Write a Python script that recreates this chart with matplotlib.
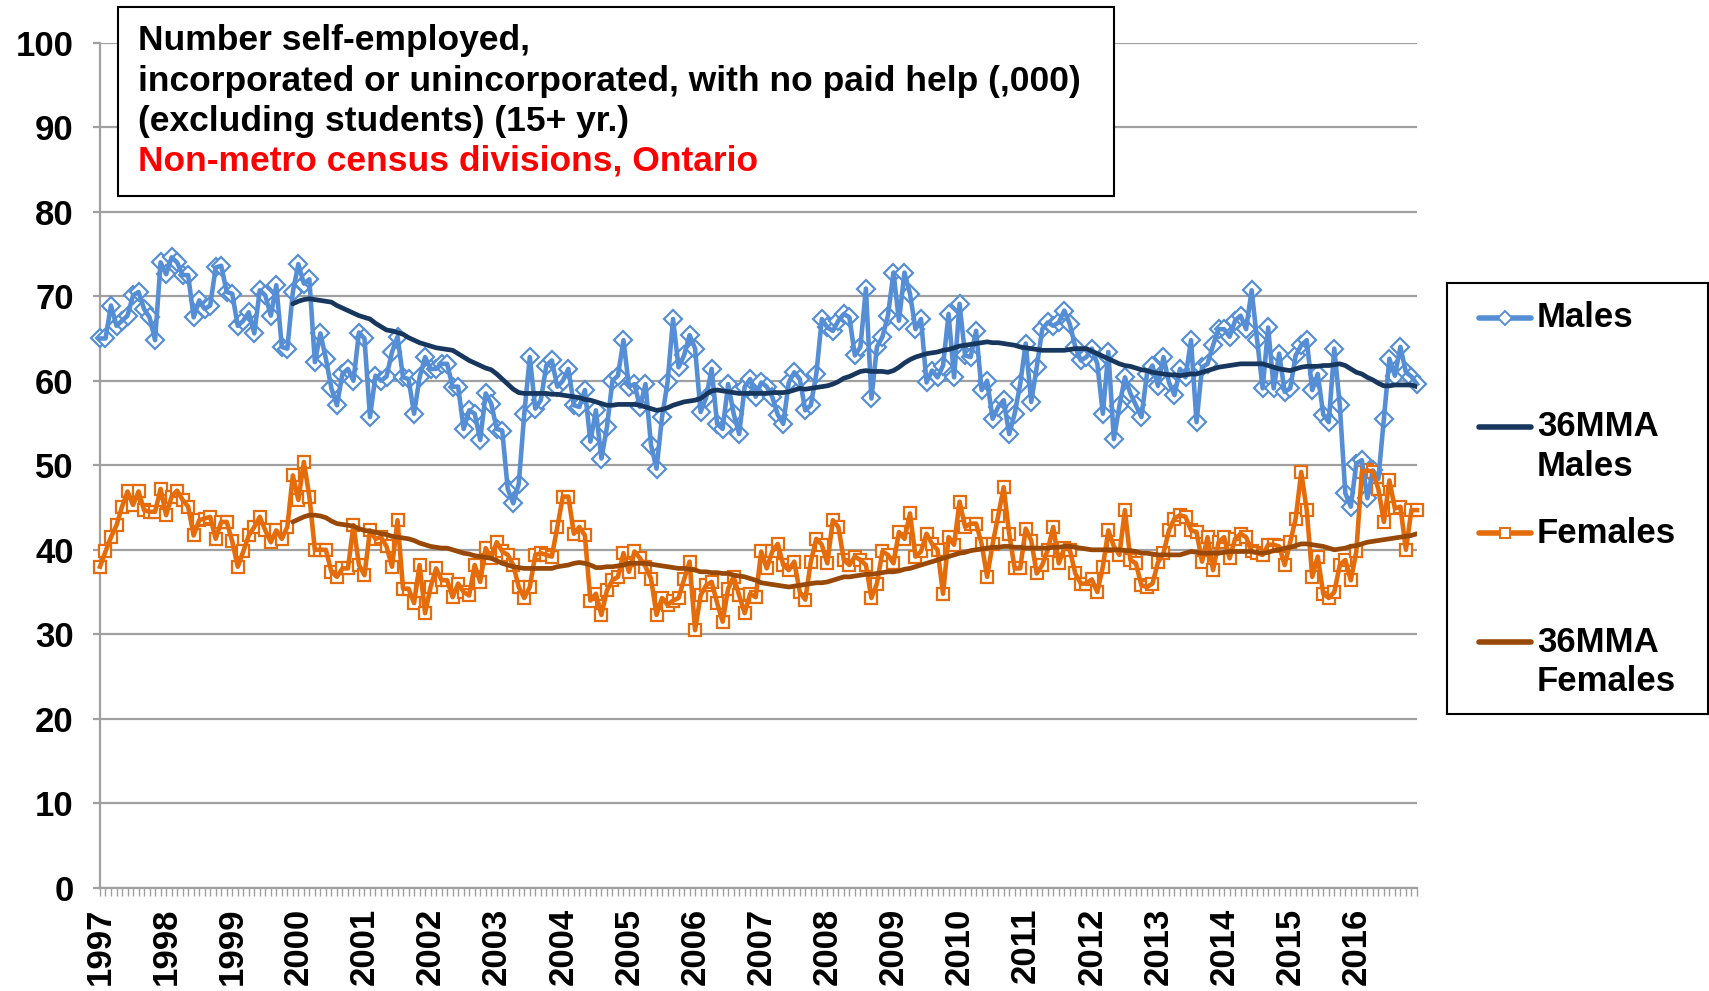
import numpy as np
import matplotlib
matplotlib.use('Agg')
import matplotlib.pyplot as plt
from matplotlib.patches import Rectangle

plt.rcParams['font.family'] = ['Liberation Sans', 'DejaVu Sans']
plt.rcParams['font.weight'] = 'bold'

# monthly data, Jan 1997 - Dec 2016 (thousands)
years = [str(y) for y in range(1997, 2017)]

males = [
    65.0, 65.0, 68.9, 66.5, 67.1, 67.7, 70.1, 70.5, 68.5, 67.5, 64.8, 74.0,  # 1997
    72.6, 74.6, 74.0, 72.5, 72.5, 67.5, 69.5, 68.5, 68.9, 73.4, 73.6, 70.5,  # 1998
    70.3, 66.5, 67.1, 68.1, 65.6, 70.7, 70.1, 67.7, 71.3, 64.0, 63.8, 70.5,  # 1999
    73.8, 71.5, 72.0, 62.2, 65.6, 62.6, 59.1, 57.1, 60.8, 61.4, 60.0, 65.7,  # 2000
    65.0, 55.7, 60.6, 60.0, 60.5, 63.4, 65.2, 60.4, 60.2, 56.1, 60.4, 62.8,  # 2001
    61.4, 61.4, 62.0, 62.0, 59.3, 59.3, 54.3, 56.5, 56.1, 53.0, 58.5, 57.3,  # 2002
    54.3, 54.1, 47.2, 45.5, 47.8, 56.1, 62.8, 56.7, 57.7, 61.8, 62.4, 59.3,  # 2003
    60.0, 61.4, 57.1, 56.9, 58.9, 52.8, 56.5, 50.8, 54.5, 60.0, 60.6, 64.8,  # 2004
    59.3, 59.6, 56.9, 59.6, 52.4, 49.6, 55.7, 59.8, 67.3, 61.6, 63.0, 65.4,  # 2005
    63.8, 56.3, 58.0, 61.4, 54.9, 54.3, 59.6, 56.1, 53.7, 59.3, 60.2, 58.1,  # 2006
    59.8, 59.3, 58.1, 56.0, 54.9, 59.8, 61.0, 60.2, 56.5, 57.1, 60.8, 67.3,  # 2007
    66.3, 65.9, 67.1, 67.9, 67.5, 63.0, 64.0, 70.9, 57.9, 64.0, 65.2, 67.7,  # 2008
    72.8, 67.1, 72.8, 70.3, 66.1, 67.3, 59.8, 61.2, 60.4, 61.8, 67.9, 60.4,  # 2009
    69.1, 63.0, 62.8, 65.9, 58.9, 60.0, 55.5, 56.9, 57.7, 53.7, 56.1, 59.6,  # 2010
    64.4, 57.5, 61.6, 66.1, 66.9, 66.5, 66.9, 68.3, 66.7, 64.0, 62.4, 62.8,  # 2011
    63.8, 62.0, 56.1, 63.4, 53.1, 57.0, 60.4, 58.5, 57.1, 55.7, 60.8, 61.8,  # 2012
    59.4, 62.8, 59.8, 58.3, 61.4, 60.4, 64.8, 55.1, 61.6, 62.0, 64.2, 66.1,  # 2013
    66.1, 65.2, 67.1, 67.7, 66.1, 70.7, 64.8, 59.1, 66.3, 59.1, 63.2, 58.7,  # 2014
    59.1, 63.0, 64.2, 64.8, 58.9, 60.8, 56.0, 55.1, 63.8, 57.1, 46.7, 45.1,  # 2015
    50.2, 50.6, 46.1, 49.4, 48.4, 55.5, 62.6, 60.6, 64.0, 61.0, 60.5, 59.6,  # 2016
]

females = [
    38.0, 39.8, 41.5, 42.9, 45.1, 46.9, 45.3, 46.9, 44.7, 44.5, 44.5, 47.2,  # 1997
    44.1, 46.3, 47.0, 45.9, 45.1, 41.7, 43.5, 43.7, 43.9, 41.3, 43.3, 43.3,  # 1998
    41.0, 38.0, 39.8, 41.7, 42.7, 43.9, 42.3, 40.9, 42.3, 41.3, 42.7, 48.8,  # 1999
    45.9, 50.4, 46.3, 40.0, 40.0, 40.0, 37.4, 36.8, 37.8, 37.8, 42.9, 38.2,  # 2000
    37.0, 42.3, 41.3, 41.5, 40.4, 38.0, 43.5, 35.4, 35.4, 33.7, 38.2, 32.5,  # 2001
    35.6, 37.8, 36.4, 36.4, 34.4, 36.0, 35.0, 34.6, 38.2, 36.2, 40.2, 39.0,  # 2002
    40.9, 39.8, 39.4, 38.2, 35.6, 34.3, 35.6, 39.4, 39.6, 39.4, 39.2, 42.7,  # 2003
    46.3, 46.3, 41.9, 42.7, 41.7, 34.0, 34.8, 32.3, 35.2, 36.4, 36.8, 39.6,  # 2004
    37.4, 39.8, 39.0, 38.0, 36.6, 32.3, 34.3, 33.5, 34.0, 34.3, 36.5, 38.6,  # 2005
    30.5, 34.6, 35.8, 36.2, 33.7, 31.5, 35.4, 36.8, 34.6, 32.5, 34.8, 34.4,  # 2006
    39.8, 37.8, 39.8, 40.7, 38.2, 37.6, 38.6, 35.0, 34.1, 38.6, 41.3, 40.6,  # 2007
    38.4, 43.5, 42.7, 38.8, 38.2, 39.2, 38.8, 38.2, 34.3, 36.0, 39.8, 39.4,  # 2008
    38.4, 42.1, 41.3, 44.3, 39.2, 39.8, 41.9, 40.7, 40.0, 34.8, 41.5, 40.6,  # 2009
    45.7, 42.7, 43.1, 43.1, 40.7, 36.8, 40.7, 44.0, 47.4, 41.9, 37.8, 37.8,  # 2010
    42.5, 41.1, 37.2, 38.2, 40.0, 42.7, 38.4, 40.2, 40.0, 37.2, 36.0, 36.0,  # 2011
    36.5, 35.0, 38.0, 42.3, 40.4, 39.4, 44.7, 38.8, 38.4, 35.8, 35.6, 36.0,  # 2012
    38.5, 39.6, 42.3, 43.7, 44.1, 43.9, 42.3, 42.1, 38.6, 41.5, 37.6, 40.9,  # 2013
    41.5, 39.0, 41.3, 41.9, 41.5, 39.8, 39.6, 39.4, 40.6, 40.6, 40.4, 38.2,  # 2014
    40.9, 43.7, 49.2, 44.7, 36.8, 39.2, 34.8, 34.3, 35.0, 38.2, 38.8, 36.4,  # 2015
    39.8, 49.2, 49.4, 49.2, 47.2, 43.3, 48.2, 44.9, 45.1, 40.0, 44.7, 44.7,  # 2016
]

# 36-month moving averages, starting Dec 1999
mma_start = 35
mma_males = [
    69.1, 69.4, 69.6, 69.7, 69.6, 69.5, 69.4, 69.3, 68.9, 68.6, 68.3, 68.0, 67.7,
    67.5, 67.3, 66.8, 66.4, 66.0, 65.9, 65.7, 65.5, 65.1, 64.8, 64.5, 64.3,
    64.1, 63.9, 63.8, 63.7, 63.6, 63.2, 62.8, 62.4, 62.1, 61.8, 61.5, 61.3,
    60.8, 60.2, 59.6, 59.0, 58.6, 58.5, 58.5, 58.5, 58.5, 58.5, 58.4, 58.4,
    58.3, 58.2, 58.1, 58.0, 57.8, 57.7, 57.5, 57.3, 57.1, 57.1, 57.2, 57.2,
    57.2, 57.2, 57.1, 56.9, 56.7, 56.5, 56.6, 56.8, 57.1, 57.3, 57.5, 57.6,
    57.7, 57.9, 58.4, 58.8, 58.9, 58.8, 58.7, 58.6, 58.5, 58.5, 58.5, 58.5,
    58.5, 58.5, 58.6, 58.6, 58.6, 58.7, 58.9, 59.1, 59.0, 59.1, 59.2, 59.3,
    59.4, 59.6, 59.9, 60.3, 60.5, 60.8, 61.1, 61.2, 61.1, 61.1, 61.1, 61.0,
    61.2, 61.6, 62.1, 62.5, 62.8, 63.0, 63.2, 63.3, 63.4, 63.6, 63.7, 63.9,
    64.1, 64.2, 64.3, 64.4, 64.5, 64.6, 64.5, 64.5, 64.4, 64.3, 64.2, 64.0,
    63.9, 63.8, 63.7, 63.6, 63.6, 63.6, 63.6, 63.6, 63.7, 63.8, 63.8, 63.8,
    63.5, 63.2, 62.9, 62.6, 62.3, 62.0, 61.8, 61.7, 61.5, 61.3, 61.2, 61.0,
    60.9, 60.8, 60.7, 60.7, 60.6, 60.7, 60.8, 60.8, 61.0, 61.2, 61.4, 61.6,
    61.7, 61.8, 61.9, 62.0, 62.0, 62.0, 62.0, 62.0, 61.8, 61.6, 61.4, 61.3,
    61.2, 61.4, 61.6, 61.7, 61.7, 61.7, 61.8, 61.8, 61.9, 62.0, 61.8, 61.4,
    61.0, 60.8, 60.4, 60.1, 59.7, 59.4, 59.4, 59.5, 59.5, 59.5, 59.5, 59.3,
]
mma_females = [
    43.3, 43.6, 43.9, 44.1, 44.1, 44.0, 43.8, 43.4, 43.1, 43.0, 42.9, 42.8, 42.5,
    42.3, 42.2, 42.1, 41.9, 41.8, 41.6, 41.5, 41.4, 41.3, 41.1, 40.8, 40.6,
    40.4, 40.3, 40.2, 40.2, 40.0, 39.8, 39.6, 39.5, 39.3, 39.2, 39.1, 39.0,
    38.7, 38.4, 38.2, 38.0, 37.9, 37.8, 37.8, 37.8, 37.8, 37.8, 37.8, 38.0,
    38.1, 38.2, 38.4, 38.5, 38.4, 38.2, 37.9, 37.9, 38.0, 38.0, 38.1, 38.2,
    38.4, 38.4, 38.4, 38.4, 38.3, 38.2, 38.1, 38.0, 37.9, 37.8, 37.8, 37.7,
    37.6, 37.4, 37.4, 37.3, 37.3, 37.2, 37.2, 37.0, 36.9, 36.8, 36.6, 36.4,
    36.1, 36.0, 35.9, 35.8, 35.7, 35.6, 35.7, 35.8, 35.9, 36.0, 36.1, 36.1,
    36.2, 36.4, 36.6, 36.8, 36.8, 36.9, 37.0, 37.1, 37.1, 37.2, 37.3, 37.4,
    37.4, 37.5, 37.7, 37.8, 38.0, 38.2, 38.4, 38.6, 38.8, 39.0, 39.2, 39.4,
    39.6, 39.7, 39.9, 40.0, 40.1, 40.2, 40.3, 40.3, 40.4, 40.4, 40.3, 40.3,
    40.2, 40.2, 40.2, 40.2, 40.2, 40.3, 40.3, 40.4, 40.4, 40.3, 40.2, 40.1,
    40.0, 40.0, 40.0, 40.0, 40.0, 40.0, 39.9, 39.9, 39.8, 39.6, 39.6, 39.5,
    39.4, 39.4, 39.4, 39.4, 39.4, 39.6, 39.8, 39.7, 39.6, 39.6, 39.6, 39.6,
    39.7, 39.8, 39.8, 39.8, 39.8, 39.8, 39.7, 39.6, 39.7, 39.9, 40.0, 40.2,
    40.3, 40.5, 40.7, 40.7, 40.6, 40.5, 40.4, 40.2, 40.0, 40.1, 40.2, 40.4,
    40.5, 40.7, 40.9, 41.0, 41.1, 41.2, 41.3, 41.4, 41.5, 41.6, 41.7, 41.9,
]

series_labels = ['Males', '36MMA\nMales', 'Females', '36MMA\nFemales']
c_m, c_mma_m = '#558ED5', '#17375E'
c_f, c_mma_f = '#E46C0A', '#984807'

months = np.arange(len(males))
mma_x = np.arange(mma_start, mma_start + len(mma_males))

fig = plt.figure(figsize=(17.09, 9.91), dpi=100)
ax = fig.add_axes([0.0585, 0.104, 0.7706, 0.853])

# data lines (markers under the line, as in the original)
ax.plot(months, males, ls='none', marker='D', ms=9, mfc='white', mec=c_m, mew=1.6, zorder=3, clip_on=False)
ax.plot(months, males, color=c_m, lw=3.3, zorder=4, clip_on=False)
ax.plot(months, females, ls='none', marker='s', ms=9, mfc='white', mec=c_f, mew=1.6, zorder=3, clip_on=False)
ax.plot(months, females, color=c_f, lw=3.3, zorder=4, clip_on=False)
ax.plot(mma_x, mma_males, color=c_mma_m, lw=3.4, zorder=5, solid_capstyle='round')
ax.plot(mma_x, mma_females, color=c_mma_f, lw=3.4, zorder=5, solid_capstyle='round')

ax.set_xlim(0, len(males) - 1)
ax.set_ylim(0, 100)
ax.set_yticks(range(0, 101, 10))
ax.yaxis.grid(True, color='#A0A0A0', lw=1.6)
ax.set_axisbelow(True)

xlabels = [years[i // 12] if i % 12 == 0 else '' for i in months]
ax.set_xticks(months)
ax.set_xticklabels(xlabels, rotation=90, fontsize=25, fontweight='bold')
ax.tick_params(axis='x', length=6, width=1, color='#A0A0A0', pad=8)
ax.tick_params(axis='y', length=5, width=1.6, color='#A0A0A0', pad=14, labelsize=25)
for lab in ax.get_yticklabels():
    lab.set_fontweight('bold')

for s in ['top', 'right']:
    ax.spines[s].set_visible(False)
ax.spines['left'].set_color('#A0A0A0')
ax.spines['bottom'].set_color('#A0A0A0')
ax.spines['left'].set_linewidth(1.6)
ax.spines['bottom'].set_linewidth(1.6)

# title box
fig.add_artist(Rectangle((0.069, 0.802), 0.5828, 0.1912, transform=fig.transFigure,
                         facecolor='white', edgecolor='black', lw=1.5, zorder=10))
title_lines = ['Number self-employed,',
               'incorporated or unincorporated, with no paid help (,000)',
               '(excluding students) (15+ yr.)']
for t, y in zip(title_lines, [0.9596, 0.9173, 0.8779]):
    fig.text(0.0807, y, t, fontsize=25.5, fontweight='bold', va='center', zorder=11)
fig.text(0.0807, 0.8375, 'Non-metro census divisions, Ontario', fontsize=25.5,
         fontweight='bold', color='#FF0000', va='center', zorder=11)

# legend
lax = fig.add_axes([0.8467, 0.2795, 0.1527, 0.4349])
lax.set_xlim(0, 1)
lax.set_ylim(0, 1)
lax.set_xticks([])
lax.set_yticks([])
for s in lax.spines.values():
    s.set_color('black')
    s.set_linewidth(1.5)

leg_y = [0.919, 0.666, 0.42, 0.167]
line_gap = 0.0906
styles = [(c_m, 'D'), (c_mma_m, None), (c_f, 's'), (c_mma_f, None)]
for lab, y, (col, mk) in zip(series_labels, leg_y, styles):
    lax.plot([0.123, 0.322], [y, y], color=col, lw=4, solid_capstyle='round')
    if mk:
        lax.plot([0.2225], [y], marker=mk, ms=7, mfc='white', mec=col, mew=1.4)
    for k, part in enumerate(lab.split('\n')):
        lax.text(0.345, y - k * line_gap, part, fontsize=25, fontweight='bold', va='center')

fig.savefig('out.png', dpi=100)
